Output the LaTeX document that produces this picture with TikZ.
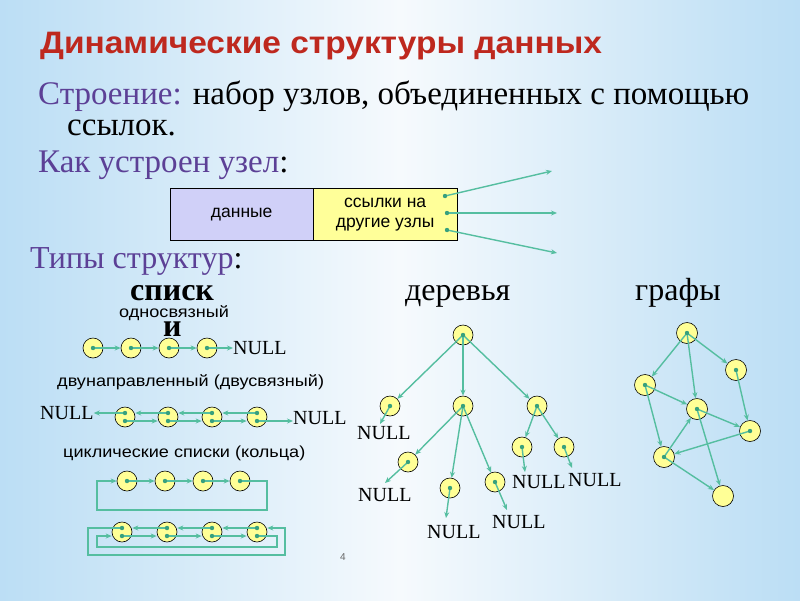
\documentclass[tikz,border=0pt]{standalone}
\usepackage{fontspec}
\setmainfont{Liberation Serif}
\setsansfont{Liberation Sans}
\usetikzlibrary{arrows.meta,calc}
\definecolor{titlered}{RGB}{190,40,30}
\definecolor{lblpurple}{RGB}{92,64,150}
\definecolor{teal}{RGB}{85,190,160}
\definecolor{dotc}{RGB}{55,160,125}
\definecolor{nodey}{RGB}{255,255,150}
\definecolor{lav}{RGB}{208,208,248}
\definecolor{boxy}{RGB}{255,255,153}
\definecolor{bgA}{RGB}{135,198,240}
\definecolor{bgB}{RGB}{198,227,246}
\definecolor{bgC}{RGB}{246,250,253}
\pgfdeclarehorizontalshading{bgshade}{100bp}{color(0bp)=(bgA); color(30bp)=(bgB); color(50bp)=(bgC); color(70bp)=(bgB); color(100bp)=(bgA)}
\tikzset{
  lnode/.style={circle, draw=black, line width=0.6pt, fill=nodey, minimum size=20pt, inner sep=0pt},
  gnode/.style={lnode, minimum size=21pt},
  arr/.style={draw=teal, line width=1.4pt, -{Stealth[length=6pt,width=5pt]}},
  nulltxt/.style={anchor=west, inner sep=0pt, font=\fontsize{20}{22}\selectfont},
  small/.style={anchor=west, inner sep=0pt, xscale=1.13, font=\sffamily\fontsize{16}{18}\selectfont},
  big/.style={anchor=base west, inner sep=0pt, font=\fontsize{33}{36}\selectfont},
}
\newcommand{\pdot}[1]{\fill[dotc] (#1) circle (2.2pt);}
\begin{document}
\begin{tikzpicture}[x=1pt,y=-1pt]
\useasboundingbox (0,0) rectangle (800,600);
\shade[shading=bgshade] (0,0) rectangle (800,600);

% texts
\node[anchor=base west, inner sep=0pt, xscale=1.08, font=\sffamily\bfseries\fontsize{31}{34}\selectfont, text=titlered] (title) at (40,53) {Динамические структуры данных};
\node[big] (l1) at (38,104) {\textcolor{lblpurple}{Строение:} набор узлов, объединенных с помощью};
\node[big] (l2) at (67,135) {ссылок.};
\node[big] (l3) at (38,172) {\textcolor{lblpurple}{Как устроен узел}:};
\node[big, font=\fontsize{32}{36}\selectfont] (l4) at (30,268) {\textcolor{lblpurple}{Типы структур}:};
\node[big, font=\bfseries\fontsize{32}{36}\selectfont] (h1) at (130,300) {списк};
\node[big, font=\bfseries\fontsize{32}{36}\selectfont] (h1b) at (163,336) {и};
\node[big, font=\fontsize{32}{36}\selectfont] (h2) at (405,300) {деревья};
\node[big, font=\fontsize{32}{36}\selectfont] (h3) at (635,300) {графы};

% node structure box
\node[draw=black, fill=lav, minimum width=143pt, minimum height=52pt, inner sep=0pt, anchor=north west, font=\sffamily\fontsize{17.5}{19}\selectfont] (data) at (170,188) {данные};
\node[draw=black, fill=boxy, minimum width=144pt, minimum height=52pt, inner sep=0pt, anchor=north west, align=center, font=\sffamily\fontsize{17.5}{20}\selectfont] (links) at (313,188) {ссылки на\\другие узлы};
\coordinate (k1) at (445,196);
\coordinate (k2) at (447,213);
\coordinate (k3) at (447,230);
\coordinate (e1) at (552,171);
\coordinate (e2) at (557,213);
\coordinate (e3) at (557,253);
\draw[arr] (k1) -- (e1);
\draw[arr] (k2) -- (e2);
\draw[arr] (k3) -- (e3);
\pdot{k1}\pdot{k2}\pdot{k3}

% singly linked list
\node[small] (t1) at (119,313) {односвязный};
\foreach \i/\x in {1/93,2/131,3/169,4/207} \node[lnode] (a\i) at (\x,348) {};
\node[nulltxt] (na) at (233,348) {NULL};
\draw[arr] (a1.center) -- (a2);
\draw[arr] (a2.center) -- (a3);
\draw[arr] (a3.center) -- (a4);
\draw[arr] (a4.center) -- (na.west);
\foreach \i in {1,...,4} {\pdot{a\i}}

% doubly linked list
\node[small] (t2) at (57,382) {двунаправленный (двусвязный)};
\foreach \i/\x in {1/125,2/168,3/212,4/257} {
  \node[lnode] (b\i) at (\x,417) {};
  \coordinate (b\i u) at ($(b\i)+(0,-4)$);
  \coordinate (b\i l) at ($(b\i)+(0,4)$);
}
\node[nulltxt] (nb1) at (40,413) {NULL};
\node[nulltxt] (nb2) at (293,418) {NULL};
\draw[arr] (b1u) -- (b1u -| nb1.east);
\draw[arr] (b2u) -- (b2u -| b1.east);
\draw[arr] (b3u) -- (b3u -| b2.east);
\draw[arr] (b4u) -- (b4u -| b3.east);
\draw[arr] (b1l) -- (b1l -| b2.west);
\draw[arr] (b2l) -- (b2l -| b3.west);
\draw[arr] (b3l) -- (b3l -| b4.west);
\draw[arr] (b4l) -- (b4l -| nb2.west);
\foreach \i in {1,...,4} {\pdot{b\i u}\pdot{b\i l}}

% circular lists
\node[small] (t3) at (63,453) {циклические списки (кольца)};
\foreach \i/\x in {1/127,2/165,3/203,4/240} \node[lnode] (c\i) at (\x,481) {};
\draw[arr] (c1.center) -- (c2);
\draw[arr] (c2.center) -- (c3);
\draw[arr] (c3.center) -- (c4);
\draw[arr] (c4.center) -- ++(27,0) -- ++(0,29) -- ++(-170,0) -- ++(0,-29) -- (c1.west);
\foreach \i in {1,...,4} {\pdot{c\i}}

\foreach \i/\x in {1/122,2/167,3/212,4/257} {
  \node[lnode] (d\i) at (\x,532) {};
  \coordinate (d\i u) at ($(d\i)+(0,-4)$);
  \coordinate (d\i l) at ($(d\i)+(0,4)$);
}
\draw[arr] (d2u) -- (d2u -| d1.east);
\draw[arr] (d3u) -- (d3u -| d2.east);
\draw[arr] (d4u) -- (d4u -| d3.east);
\draw[arr] (d1l) -- (d1l -| d2.west);
\draw[arr] (d2l) -- (d2l -| d3.west);
\draw[arr] (d3l) -- (d3l -| d4.west);
\draw[arr] (d1u) -- ++(-34,0) -- ++(0,27) -- ++(197,0) -- ++(0,-27) -- (d1u -| d4.east);
\draw[arr] (d4l) -- ++(20,0) -- ++(0,11) -- ++(-180,0) -- ++(0,-11) -- (d4l -| d1.west);
\foreach \i in {1,...,4} {\pdot{d\i u}\pdot{d\i l}}

% tree
\node[lnode] (r) at (463,335) {};
\node[lnode] (tA) at (390,406) {};
\node[lnode] (tB) at (463,406) {};
\node[lnode] (tC) at (537,406) {};
\node[lnode] (tD) at (408,462) {};
\node[lnode] (tE) at (450,488) {};
\node[lnode] (tF) at (495,482) {};
\node[lnode] (tG) at (522,447) {};
\node[lnode] (tH) at (564,447) {};
\draw[arr] (r.center) -- (tA);
\draw[arr] (r.center) -- (tB);
\draw[arr] (r.center) -- (tC);
\draw[arr] (tB.center) -- (tD);
\draw[arr] (tB.center) -- (tE);
\draw[arr] (tB.center) -- (tF);
\draw[arr] (tC.center) -- (tG);
\draw[arr] (tC.center) -- (tH);
\node[nulltxt] (nA) at (357,433) {NULL};
\node[nulltxt] (nD) at (358,495) {NULL};
\node[nulltxt] (nE) at (427,532) {NULL};
\node[nulltxt] (nF) at (492,522) {NULL};
\node[nulltxt] (nG) at (512,482) {NULL};
\node[nulltxt] (nH) at (568,480) {NULL};
\coordinate (pA) at (380,424);
\coordinate (pD) at (385,483);
\coordinate (pE) at (446,518);
\coordinate (pF) at (507,510);
\coordinate (pG) at (525,472);
\coordinate (pH) at (572,468);
\draw[arr] (tA.center) -- (pA);
\draw[arr] (tD.center) -- (pD);
\draw[arr] (tE.center) -- (pE);
\draw[arr] (tF.center) -- (pF);
\draw[arr] (tG.center) -- (pG);
\draw[arr] (tH.center) -- (pH);
\foreach \n in {r,tA,tB,tC,tD,tE,tF,tG,tH} {\pdot{\n}}

% graph
\node[gnode] (g1) at (687,333) {};
\node[gnode] (g2) at (645,385) {};
\node[gnode] (g3) at (736,370) {};
\node[gnode] (g4) at (697,409) {};
\node[gnode] (g5) at (750,431) {};
\node[gnode] (g6) at (664,457) {};
\node[gnode] (g7) at (723,496) {};
\draw[arr] (g1.center) -- (g2);
\draw[arr] (g1.center) -- (g4);
\draw[arr] (g1.center) -- (g3);
\draw[arr] (g2.center) -- (g4);
\draw[arr] (g2.center) -- (g6);
\draw[arr] (g3.center) -- (g5);
\draw[arr] (g4.center) -- (g5);
\draw[arr] (g4.center) -- (g7);
\draw[arr] (g6.center) -- (g4);
\draw[arr] (g5.center) -- (g6);
\draw[arr] (g6.center) -- (g7);
\foreach \n in {g1,g2,g3,g4,g5,g6} {\pdot{\n}}

\node[inner sep=0pt, text=black!60, font=\sffamily\fontsize{10}{12}\selectfont] (pg) at (343,557) {4};
\end{tikzpicture}
\end{document}
